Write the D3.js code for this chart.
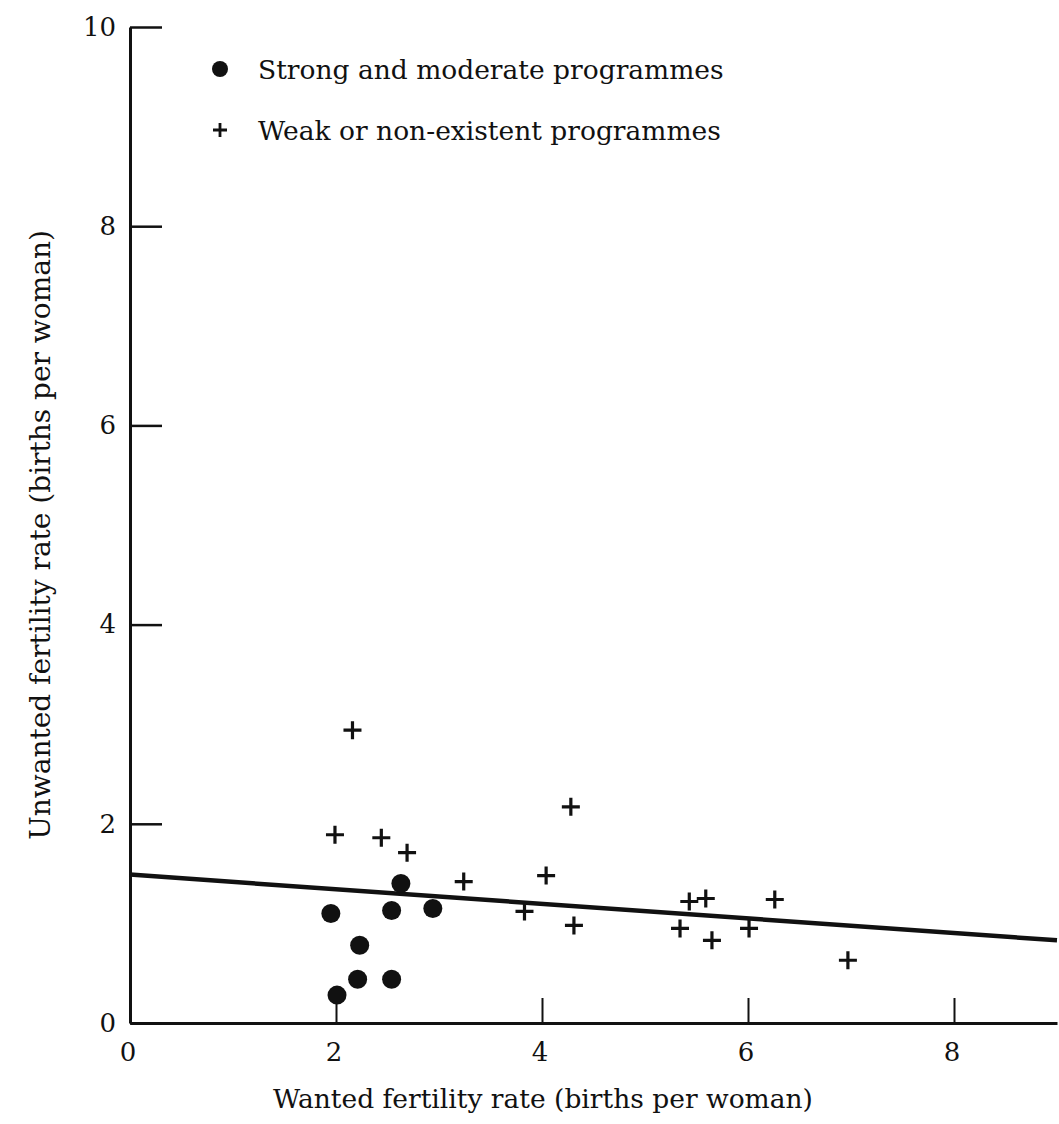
<!DOCTYPE html>
<html>
<head>
<meta charset="utf-8">
<script src="https://cdn.jsdelivr.net/npm/d3@7"></script>
<style>
  body { margin: 0; background: #fff; }
  svg text { font-family: "DejaVu Serif", "Liberation Serif", serif; fill: #111; }
</style>
</head>
<body>
<div id="chart"></div>
<script>
// strong and moderate programmes (filled dots)
const strongX = [2.63, 1.95, 2.54, 2.94, 2.23, 2.21, 2.54, 2.01];
const strongY = [1.40, 1.10, 1.13, 1.15, 0.78, 0.44, 0.44, 0.28];

// weak or non-existent programmes (crosses)
const weakX = [2.16, 1.99, 2.44, 2.69, 3.24, 4.28, 4.04, 3.83, 4.31, 5.43, 5.59, 5.34, 5.65, 6.01, 6.26, 6.97];
const weakY = [2.94, 1.89, 1.86, 1.71, 1.42, 2.17, 1.48, 1.12, 0.98, 1.22, 1.25, 0.95, 0.83, 0.95, 1.24, 0.63];

// fitted line end points
const lineX = [0, 9];
const lineY = [1.49, 0.83];

const xTicks = [0, 2, 4, 6, 8];
const yTicks = [0, 2, 4, 6, 8, 10];
const legendLabels = ["Strong and moderate programmes", "Weak or non-existent programmes"];

const W = 1059, H = 1124;
const margin = { top: 27, right: 2, bottom: 101, left: 130 };

const svg = d3.select("#chart").append("svg")
  .attr("width", W)
  .attr("height", H);

let x = d3.scaleLinear().domain([0, 9]).range([margin.left, W - margin.right]);
let y = d3.scaleLinear().domain([0, 10]).range([H - margin.bottom, margin.top]);

const ink = "#111";

// axes
let xAxis = d3.axisBottom(x).tickValues(xTicks).tickSize(-25).tickSizeOuter(0).tickPadding(20);
let yAxis = d3.axisLeft(y).tickValues(yTicks).tickSize(-32).tickSizeOuter(0).tickPadding(14);

const gx = svg.append("g")
  .attr("transform", "translate(0," + y(0) + ")")
  .call(xAxis);
gx.select(".domain").attr("stroke", ink).attr("stroke-width", 3);
gx.selectAll(".tick line").attr("stroke", ink).attr("stroke-width", 2);
gx.selectAll(".tick text").style("font-size", "26px").attr("fill", ink).attr("dx", "-0.1em");

const gy = svg.append("g")
  .attr("transform", "translate(" + x(0) + ",0)")
  .call(yAxis);
gy.select(".domain").attr("stroke", ink).attr("stroke-width", 3);
gy.selectAll(".tick line").attr("stroke", ink).attr("stroke-width", 2.5);
gy.selectAll(".tick text").style("font-size", "26px").attr("fill", ink);

// regression line
svg.append("line")
  .attr("x1", x(lineX[0])).attr("y1", y(lineY[0]))
  .attr("x2", x(lineX[1])).attr("y2", y(lineY[1]))
  .attr("stroke", ink)
  .attr("stroke-width", 4.5);

// cross marker path
function cross(cx, cy, s) {
  return "M" + (cx - s) + "," + cy + "H" + (cx + s) + "M" + cx + "," + (cy - s) + "V" + (cy + s);
}

svg.append("g").selectAll("path")
  .data(d3.zip(weakX, weakY))
  .enter().append("path")
  .attr("d", d => cross(x(d[0]), y(d[1]), 9))
  .attr("stroke", ink)
  .attr("stroke-width", 3.2)
  .attr("fill", "none");

svg.append("g").selectAll("circle")
  .data(d3.zip(strongX, strongY))
  .enter().append("circle")
  .attr("cx", d => x(d[0]))
  .attr("cy", d => y(d[1]))
  .attr("r", 9.5)
  .attr("fill", ink);

// legend
const lg = svg.append("g");
lg.append("circle").attr("cx", 220).attr("cy", 69).attr("r", 8).attr("fill", ink);
lg.append("path").attr("d", cross(220, 130, 7)).attr("stroke", ink).attr("stroke-width", 2.8);
lg.selectAll("text")
  .data(legendLabels)
  .enter().append("text")
  .attr("x", 258)
  .attr("y", (d, i) => 79 + i * 61)
  .style("font-size", "26.5px")
  .text(d => d);

// axis titles
svg.append("text")
  .attr("x", 543)
  .attr("y", 1108)
  .attr("text-anchor", "middle")
  .style("font-size", "26.5px")
  .text("Wanted fertility rate (births per woman)");

svg.append("text")
  .attr("transform", "translate(50,535) rotate(-90)")
  .attr("text-anchor", "middle")
  .style("font-size", "28px")
  .text("Unwanted fertility rate (births per woman)");
</script>
</body>
</html>
